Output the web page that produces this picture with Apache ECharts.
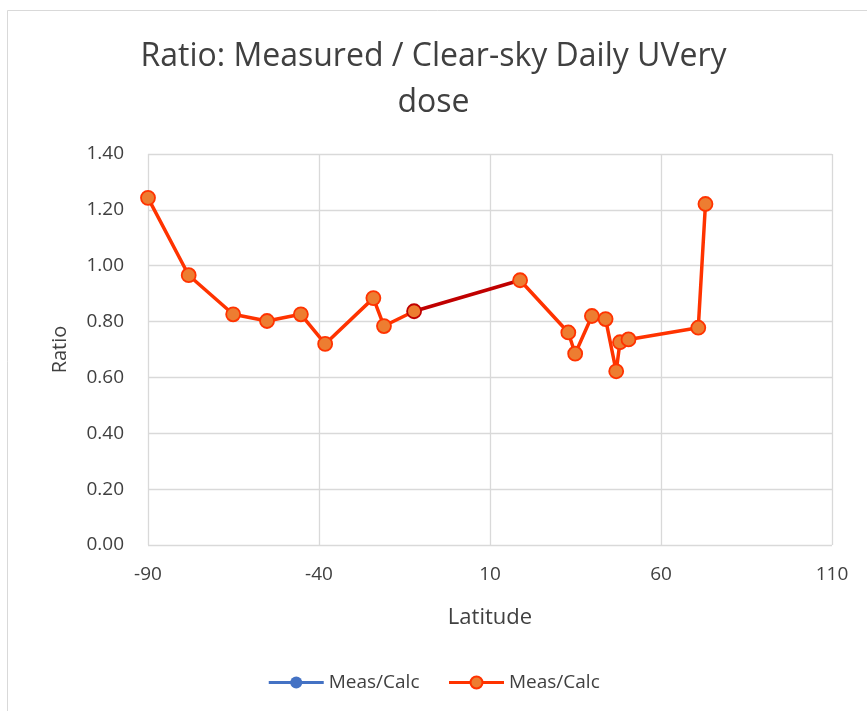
<!DOCTYPE html>
<html>
<head>
<meta charset="utf-8">
<script src="https://cdn.jsdelivr.net/npm/echarts@6/dist/echarts.min.js"></script>
<style>
html,body{margin:0;padding:0;background:#fff;}
#chart{width:867px;height:711px;}
</style>
</head>
<body>
<div id="chart"></div>
<script>
var latitudes = [-90, -78.1, -65.1, -55.2, -45.3, -38.2, -24.1, -21.0, -12.2, 18.8, 32.9, 34.9, 39.8, 43.8, 46.9, 48.0, 50.5, 70.9, 73.0];
var ratios    = [1.243, 0.966, 0.826, 0.802, 0.826, 0.720, 0.884, 0.784, 0.837, 0.948, 0.761, 0.685, 0.820, 0.809, 0.622, 0.726, 0.736, 0.778, 1.221];
var darkSegment = [8, 9];
var blueValues = [];
var xTicks = [-90, -40, 10, 60, 110];
var yTicks = [0, 0.2, 0.4, 0.6, 0.8, 1.0, 1.2, 1.4];
var seriesName = 'Meas/Calc';
var titleText = 'Ratio: Measured / Clear-sky Daily UVery\ndose';

var darkRed = '#C00000';
var pts = [];
latitudes.forEach(function(x, i){
  var item = {value: [x, ratios[i]]};
  if (i === darkSegment[0]) item.itemStyle = {borderColor: darkRed};
  pts.push(item);
  if (i === darkSegment[0]) pts.push({value: [null, null]});
});
var darkPts = darkSegment.map(function(i){ return [latitudes[i], ratios[i]]; });

var font = '"Open Sans", "Liberation Sans", sans-serif';
var textColor = '#404040';

var chart = echarts.init(document.getElementById('chart'));
chart.setOption({
  animation: false,
  backgroundColor: '#fff',
  graphic: [{
    type: 'rect', left: 5, top: 8, z: -1,
    shape: {width: 870, height: 710},
    style: {fill: 'none', stroke: '#d9d9d9', lineWidth: 1}
  }],
  title: {
    text: titleText,
    left: 'center', top: 29,
    textStyle: {fontFamily: font, fontSize: 32, fontWeight: 'normal', color: textColor, lineHeight: 46}
  },
  legend: {
    bottom: 14, left: 'center',
    itemWidth: 55, itemHeight: 15, itemGap: 28,
    textStyle: {fontFamily: font, fontSize: 19, color: textColor},
    lineStyle: {width: 3},
    data: [{name: seriesName + ' '}, {name: seriesName}],
    formatter: function(n){ return n.trim(); }
  },
  grid: {left: 148, right: 35, top: 154, bottom: 166, containLabel: false},
  xAxis: {
    type: 'value', min: xTicks[0], max: xTicks[xTicks.length-1], interval: 50,
    name: 'Latitude', nameLocation: 'middle', nameGap: 62,
    nameTextStyle: {fontFamily: font, fontSize: 22, color: textColor},
    axisLine: {show: false}, axisTick: {show: false},
    axisLabel: {fontFamily: font, fontSize: 19, color: textColor, margin: 20},
    splitLine: {show: true, lineStyle: {color: '#d9d9d9', width: 1.3}}
  },
  yAxis: {
    type: 'value', min: yTicks[0], max: yTicks[yTicks.length-1], interval: 0.2,
    name: 'Ratio', nameLocation: 'middle', nameGap: 78, nameRotate: 90,
    nameTextStyle: {fontFamily: font, fontSize: 20, color: textColor},
    axisLine: {show: false}, axisTick: {show: false},
    axisLabel: {fontFamily: font, fontSize: 19, color: textColor, margin: 24,
      formatter: function(v){ return v.toFixed(2); }},
    splitLine: {show: true, lineStyle: {color: '#d9d9d9', width: 1.3}}
  },
  series: [
    {
      name: seriesName + ' ', type: 'line', data: blueValues,
      symbol: 'circle', symbolSize: 12,
      lineStyle: {color: '#4472C4', width: 3},
      itemStyle: {color: '#4472C4', borderColor: '#4472C4'}
    },
    {
      name: 'dark', type: 'line', data: darkPts,
      showSymbol: false, symbol: 'none',
      lineStyle: {color: darkRed, width: 3.5},
      z: 2
    },
    {
      name: seriesName, type: 'line', data: pts, connectNulls: false,
      symbol: 'circle', symbolSize: 14,
      lineStyle: {color: '#FF3300', width: 3.5},
      itemStyle: {color: '#ED7D31', borderColor: '#FF3300', borderWidth: 1.8},
      z: 3
    }
  ]
});
</script>
</body>
</html>
